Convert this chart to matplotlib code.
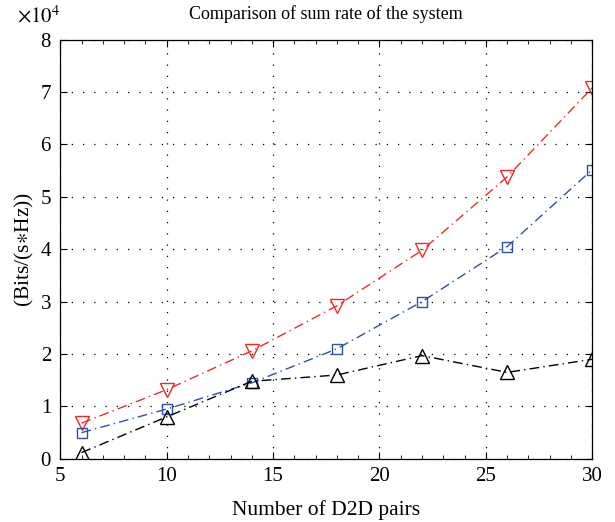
import numpy as np
import matplotlib
matplotlib.use('Agg')
import matplotlib.pyplot as plt
from matplotlib.ticker import ScalarFormatter, MultipleLocator

plt.rcParams['font.family'] = ['Liberation Serif', 'DejaVu Serif']
plt.rcParams['mathtext.fontset'] = 'stix'

pairs = [6, 10, 14, 18, 22, 26, 30]
rate_red = [6800, 13200, 20600, 29200, 39800, 53800, 70800]
rate_blue = [5000, 9500, 14500, 21000, 30000, 40500, 55200]
rate_black = [1200, 8000, 14800, 16000, 19700, 16500, 19000]

fig = plt.figure(figsize=(6.15, 5.22), dpi=100)
ax = fig.add_axes([0.098, 0.121, 0.865, 0.803])

ls = (0, (7, 3, 1, 3))
ax.plot(pairs, rate_red, color='#ee2a2a', linestyle=ls, linewidth=1.0,
        marker='v', markersize=10, markerfacecolor='none', markeredgecolor='#ee2a2a')
ax.plot(pairs, rate_blue, color='#3050a8', linestyle=ls, linewidth=1.0,
        marker='s', markersize=7.5, markerfacecolor='none', markeredgecolor='#3050a8')
ax.plot(pairs, rate_black, color='black', linestyle=ls, linewidth=1.0,
        marker='^', markersize=10, markerfacecolor='none', markeredgecolor='black')

ax.set_xlim(5, 30)
ax.set_ylim(0, 80000)
ax.xaxis.set_major_locator(MultipleLocator(5))
ax.xaxis.set_minor_locator(MultipleLocator(1))
ax.yaxis.set_major_locator(MultipleLocator(10000))

fmt = ScalarFormatter(useMathText=True)
fmt.set_powerlimits((0, 0))
ax.yaxis.set_major_formatter(fmt)
ax.yaxis.get_offset_text().set_visible(False)
fig.text(0.028, 0.968, r'$\times10^{4}$', fontsize=15, ha='left', va='center')

ax.grid(True, which='major', linestyle=(0, (1, 8)), color='black', linewidth=0.9)
ax.tick_params(which='both', direction='in', top=True, right=True, labelsize=15)
ax.tick_params(which='major', length=5, pad=6)
ax.tick_params(which='minor', length=3)

for s in ax.spines.values():
    s.set_linewidth(0.9)

ax.set_title('Comparison of sum rate of the system', fontsize=13, pad=15)
ax.set_xlabel('Number of D2D pairs', fontsize=15.5, labelpad=10)
ax.set_ylabel('(Bits/(s$\\ast$Hz))', fontsize=15.5, labelpad=3)

plt.savefig('out.png', dpi=100)
